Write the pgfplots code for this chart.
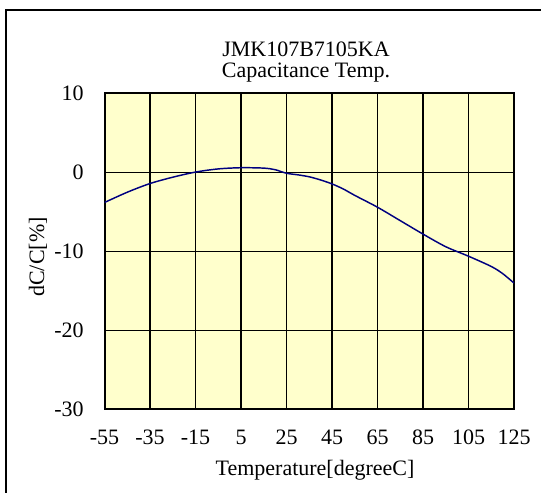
\documentclass[border=0pt]{standalone}
\usepackage{fontspec}
\setmainfont{Liberation Serif}
\usepackage{pgfplots}
\pgfplotsset{compat=1.18}
\definecolor{bgyellow}{HTML}{FFFFCC}
\definecolor{curve}{HTML}{000080}
\begin{document}
\begin{tikzpicture}
\useasboundingbox (0,0) rectangle (405.75pt,369pt);
\draw[line width=1.5pt] (4.8pt,-5pt) -- (4.8pt,361.5pt) -- (415pt,361.5pt);
\begin{axis}[
  scale only axis,
  width=307.1pt, height=237pt,
  anchor=south west, at={(78.4pt,61.9pt)},
  xmin=-55, xmax=125, ymin=-30, ymax=10,
  xtick={-55,-35,-15,5,25,45,65,85,105,125},
  xticklabels={{-55},{-35},{-15},{5},{25},{45},{65},{85},{105},{125}},
  ytick={-30,-20,-10,0,10},
  yticklabels={{-30},{-20},{-10},{0},{10}},
  major tick length=0pt,
  grid=major,
  grid style={black, line width=0.9pt},
  axis line style={black, line width=1.5pt},
  axis background/.style={fill=bgyellow},
  font=\fontsize{16.5}{19.8}\selectfont,
  xticklabel style={anchor=base, inner sep=0pt, yshift=-26.25pt},
  yticklabel style={anchor=east, inner sep=0pt, xshift=-15.4pt},
  clip=true,
]
\addplot[curve, line width=1.1pt, smooth] coordinates {
(-55,-3.8) (-45,-2.5) (-35,-1.4) (-25,-0.6) (-15,0.05) (-5,0.45) (5,0.6) (15,0.55) (20,0.35) (25,-0.1) (30,-0.3) (35,-0.55) (40,-0.95) (45,-1.45) (50,-2.1) (55,-2.9) (65,-4.4) (75,-6.1) (85,-7.8) (95,-9.4) (105,-10.6) (115,-11.9) (120,-12.8) (125,-14.0)
};
\end{axis}
\node[anchor=base, inner sep=0pt, font=\fontsize{16.5}{19.8}\selectfont] at (229.5pt,326.25pt) {JMK107B7105KA};
\node[anchor=base, inner sep=0pt, font=\fontsize{16.5}{19.8}\selectfont] at (229.5pt,310.5pt) {Capacitance Temp.};
\node[anchor=base, inner sep=0pt, font=\fontsize{16.5}{19.8}\selectfont] at (236.25pt,12.75pt) {Temperature[degreeC]};
\node[rotate=90, inner sep=0pt, font=\fontsize{16.5}{19.8}\selectfont] at (28.5pt,176.25pt) {dC/C[\%]};
\end{tikzpicture}
\end{document}
